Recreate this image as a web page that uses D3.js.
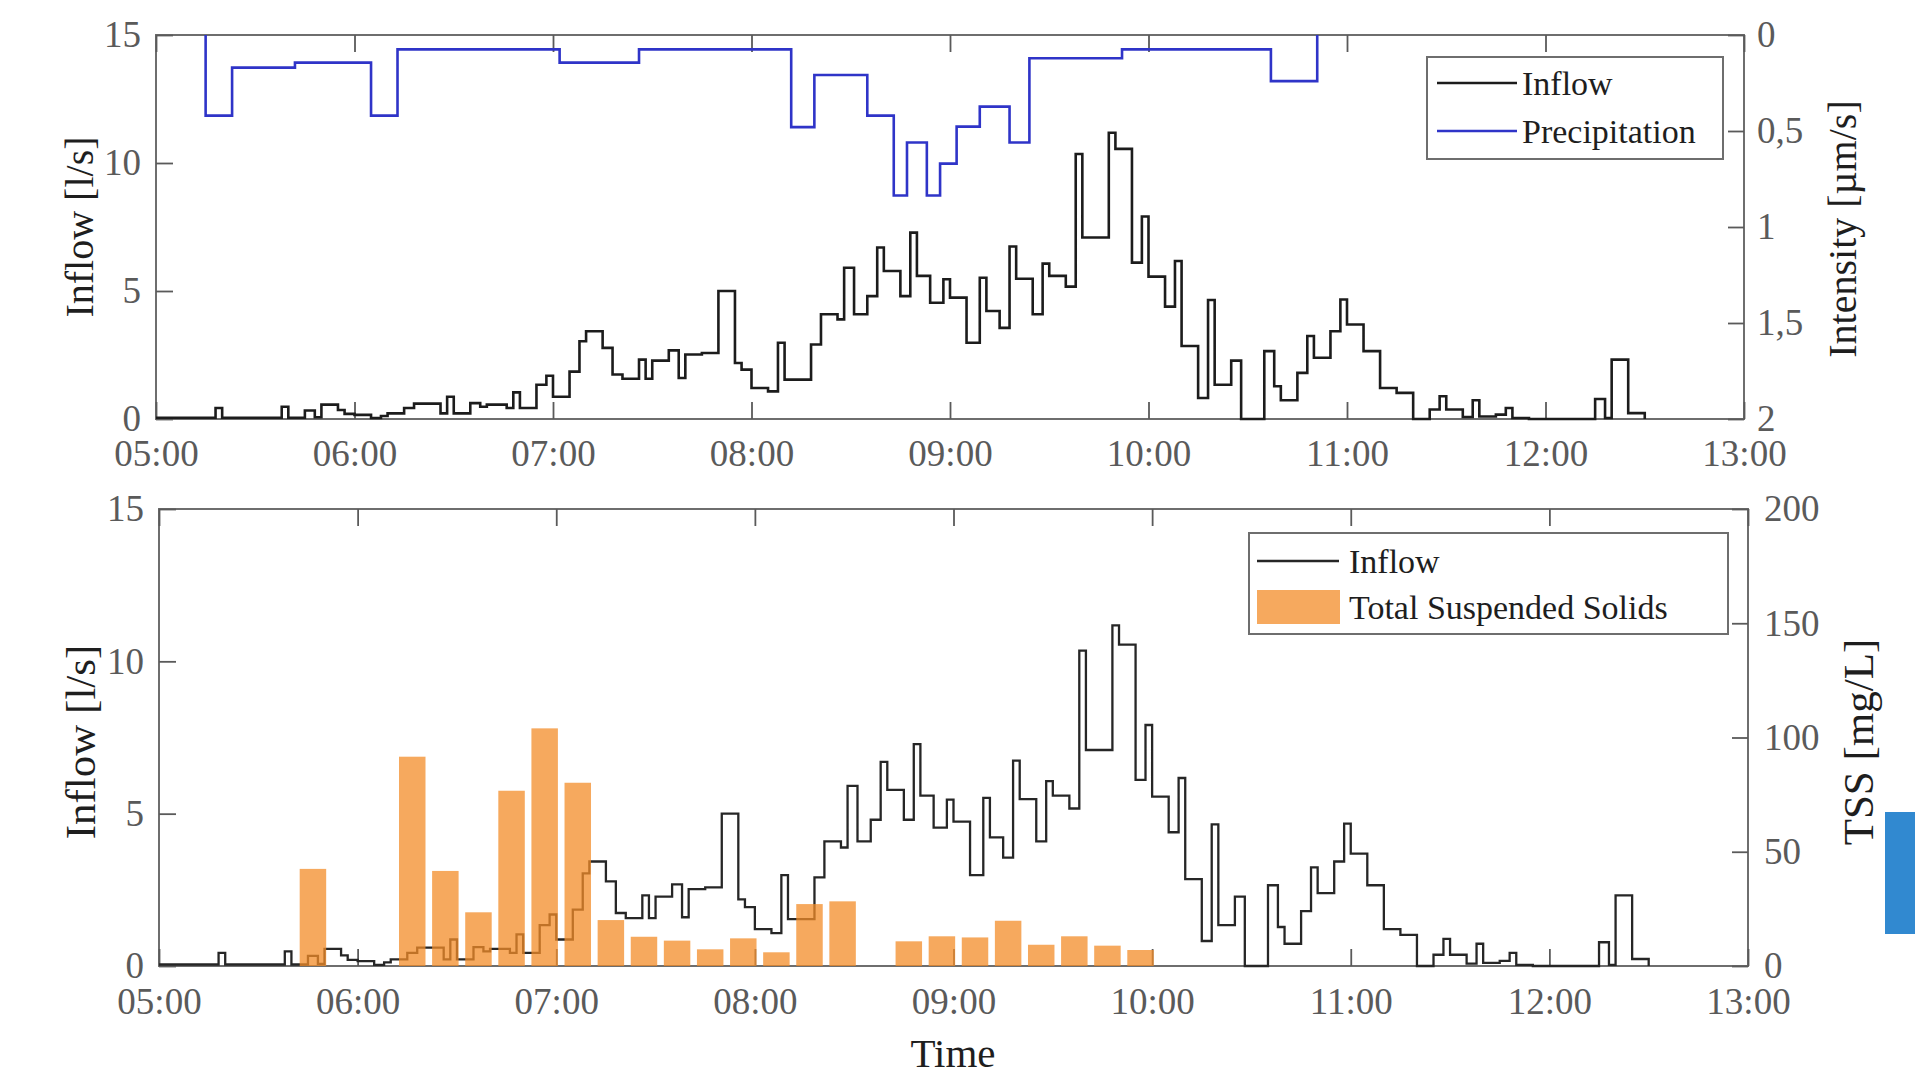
<!DOCTYPE html>
<html lang="en">
<head>
    <meta charset="UTF-8">
    <title>Inflow, precipitation and TSS</title>
    <script src="https://d3js.org/d3.v7.min.js"></script>
    <style>
        body { margin: 0; background: #fff; }
        text { font-family: 'Liberation Serif', 'DejaVu Serif', serif; }
    </style>
</head>
<body>
    <svg id="chart"></svg>

    <script>
        // inflow [l/s], step values starting at each time
        const inflowTime = ["05:00","05:18","05:20","05:38","05:40","05:45","05:48","05:50","05:55","05:57",
            "06:00","06:05","06:08","06:10","06:15","06:18","06:26","06:28","06:30","06:35",
            "06:38","06:40","06:46","06:48","06:50","06:55","06:58","07:00","07:05","07:08",
            "07:10","07:15","07:18","07:21","07:26","07:28","07:30","07:35","07:38","07:40",
            "07:45","07:50","07:55","07:57","08:00","08:05","08:08","08:10","08:18","08:21",
            "08:26","08:28","08:31","08:35","08:38","08:40","08:45","08:48","08:50","08:54",
            "08:58","09:00","09:05","09:09","09:11","09:15","09:18","09:20","09:25","09:28",
            "09:30","09:35","09:38","09:40","09:48","09:50","09:55","09:58","10:00","10:05",
            "10:08","10:10","10:15","10:18","10:20","10:25","10:28","10:35","10:38","10:40",
            "10:45","10:48","10:50","10:55","10:58","11:00","11:05","11:10","11:15","11:20",
            "11:25","11:28","11:30","11:35","11:38","11:40","11:45","11:48","11:50","11:55",
            "12:15","12:18","12:20","12:25","12:30"];
        const inflowValue = [0.05,0.43,0.05,0.48,0.05,0.33,0.07,0.56,0.35,0.2,
            0.16,0.04,0.12,0.22,0.43,0.6,0.22,0.87,0.22,0.62,
            0.48,0.56,0.43,1.04,0.43,1.34,1.69,0.87,1.85,3.04,
            3.43,2.78,1.74,1.57,2.32,1.57,2.28,2.68,1.6,2.52,
            2.58,5.0,2.19,1.93,1.21,1.08,2.98,1.54,2.91,4.09,
            3.89,5.91,4.09,4.8,6.7,5.78,4.8,7.28,5.59,4.54,
            5.46,4.74,2.98,5.52,4.22,3.56,6.74,5.48,4.09,6.07,
            5.59,5.17,10.35,7.09,11.18,10.55,6.11,7.91,5.56,4.39,
            6.17,2.85,0.82,4.65,1.34,2.28,0,2.65,1.28,0.73,
            1.8,3.24,2.39,3.43,4.67,3.69,2.65,1.21,1.02,0,
            0.37,0.89,0.37,0.08,0.73,0.1,0.17,0.43,0.04,0,
            0.78,0.04,2.32,0.23,0];

        // precipitation intensity [um/s]
        const precipTime = ["05:15","05:23","05:42","06:05","06:13","07:02","07:26","08:12","08:19","08:35",
            "08:43","08:47","08:53","08:57","09:02","09:09","09:18","09:24","09:52","10:37","10:51"];
        const precipValue = [0.42,0.17,0.144,0.42,0.075,0.144,0.075,0.48,0.208,0.42,
            0.836,0.56,0.836,0.67,0.477,0.373,0.56,0.121,0.075,0.24,0];

        // total suspended solids [mg/L], sample centre times
        const tssTime = ["05:46:30","06:16:30","06:26:30","06:36:30","06:46:30","06:56:30","07:06:30","07:16:30",
            "07:26:30","07:36:30","07:46:30","07:56:30","08:06:30","08:16:30","08:26:30","08:46:30",
            "08:56:30","09:06:30","09:16:30","09:26:30","09:36:30","09:46:30","09:56:30"];
        const tssValue = [42.5,91.6,41.6,23.5,76.7,104,80.2,20.1,12.8,11.1,7.3,12.1,6.0,27.1,28.3,10.8,
            13.0,12.5,19.8,9.3,13.0,8.9,7.0];

        const hourTicks = ["05:00","06:00","07:00","08:00","09:00","10:00","11:00","12:00","13:00"];
        const inflowTicks = [0, 5, 10, 15];
        const intensityTicks = [0, 0.5, 1, 1.5, 2];
        const tssTicks = [0, 50, 100, 150, 200];

        const parseHM = d3.timeParse('%H:%M');
        const parseHMS = d3.timeParse('%H:%M:%S');
        const commaFmt = d3.formatLocale({ decimal: ',', thousands: '.', grouping: [3], currency: ['', ''] }).format('~g');

        const svg = d3.select('#chart').attr('width', 1915).attr('height', 1077);

        const inflow = inflowTime.map((t, i) => ({ t: parseHM(t), v: inflowValue[i] }));
        // rain line starts with a drop from the top edge
        const precip = [{ t: parseHM(precipTime[0]), v: 0 }]
            .concat(precipTime.map((t, i) => ({ t: parseHM(t), v: precipValue[i] })));
        const tss = tssTime.map((t, i) => ({ t: parseHMS(t), v: tssValue[i] }));

        const xDomain = [parseHM(hourTicks[0]), parseHM(hourTicks[hourTicks.length - 1])];
        const hourDates = hourTicks.map(parseHM);

        const axisColor = '#5a5a5a';
        const tickFont = 37;

        // frame + inward ticks on all four sides
        function drawFrame(x, y, yR, rightTicks, rightFmt, rightPad, bottomPad) {
            const [x0, x1] = x.range();
            const [yb, yt] = y.range();

            svg.append('rect')
                .attr('x', x0).attr('y', yt)
                .attr('width', x1 - x0).attr('height', yb - yt)
                .attr('fill', 'none')
                .attr('stroke', '#6e6e6e')
                .attr('stroke-width', 2);

            const styleAxis = (g) => {
                g.select('.domain').remove();
                g.attr('font-family', "'Liberation Serif', serif")
                    .attr('font-size', tickFont)
                    .attr('color', axisColor);
                g.selectAll('line').attr('stroke-width', 1.8);
            };

            svg.append('g')
                .attr('transform', `translate(0,${yb})`)
                .call(d3.axisBottom(x).tickValues(hourDates).tickFormat(d3.timeFormat('%H:%M'))
                    .tickSize(-17).tickPadding(bottomPad))
                .call(styleAxis);

            svg.append('g')
                .attr('transform', `translate(0,${yt})`)
                .call(d3.axisTop(x).tickValues(hourDates).tickFormat(() => '').tickSize(-17))
                .call(styleAxis);

            svg.append('g')
                .attr('transform', `translate(${x0},0)`)
                .call(d3.axisLeft(y).tickValues(inflowTicks).tickSize(-17).tickPadding(15))
                .call(styleAxis);

            svg.append('g')
                .attr('transform', `translate(${x1},0)`)
                .call(d3.axisRight(yR).tickValues(rightTicks).tickFormat(rightFmt).tickSize(-16).tickPadding(rightPad))
                .call(styleAxis);
        }

        function axisTitle(text, x, y, size, rotate) {
            svg.append('text')
                .attr('transform', `translate(${x},${y}) rotate(${rotate})`)
                .attr('text-anchor', 'middle')
                .attr('dominant-baseline', 'central')
                .attr('font-size', size)
                .attr('fill', '#1e1e1e')
                .text(text);
        }

        // ---------- top panel: inflow + precipitation ----------
        const xTop = d3.scaleTime().domain(xDomain).range([156, 1744]);
        const yTop = d3.scaleLinear().domain([0, 15]).range([419, 35]);
        const yRain = d3.scaleLinear().domain([0, 2]).range([35, 419]);

        drawFrame(xTop, yTop, yRain, intensityTicks, commaFmt, 13, 21);

        svg.append('path')
            .datum(inflow)
            .attr('fill', 'none')
            .attr('stroke', '#1c1c1c')
            .attr('stroke-width', 2.6)
            .attr('d', d3.line().curve(d3.curveStepAfter).x(d => xTop(d.t)).y(d => yTop(d.v)));

        svg.append('path')
            .datum(precip)
            .attr('fill', 'none')
            .attr('stroke', '#2f34c8')
            .attr('stroke-width', 2.6)
            .attr('d', d3.line().curve(d3.curveStepAfter).x(d => xTop(d.t)).y(d => yRain(d.v)));

        axisTitle('Inflow [l/s]', 79, 227, 40, -90);
        axisTitle('Intensity [µm/s]', 1842, 229, 40, -90);

        // legend top
        const legTop = svg.append('g');
        legTop.append('rect')
            .attr('x', 1427).attr('y', 57).attr('width', 296).attr('height', 102)
            .attr('fill', '#fff').attr('stroke', '#6e6e6e').attr('stroke-width', 2);
        [['Inflow', '#1c1c1c', 83], ['Precipitation', '#2f34c8', 131]].forEach(([label, color, ly]) => {
            legTop.append('line')
                .attr('x1', 1437).attr('x2', 1517).attr('y1', ly).attr('y2', ly)
                .attr('stroke', color).attr('stroke-width', 2.6);
            legTop.append('text')
                .attr('x', 1522).attr('y', ly).attr('dy', '0.35em')
                .attr('font-size', 34).attr('fill', '#1e1e1e')
                .text(label);
        });

        // ---------- bottom panel: inflow + TSS ----------
        const xBot = d3.scaleTime().domain(xDomain).range([159, 1748]);
        const yBot = d3.scaleLinear().domain([0, 15]).range([966, 509]);
        const yTss = d3.scaleLinear().domain([0, 200]).range([966, 509]);

        drawFrame(xBot, yBot, yTss, tssTicks, d3.format('d'), 16, 22);

        svg.append('path')
            .datum(inflow)
            .attr('fill', 'none')
            .attr('stroke', '#262626')
            .attr('stroke-width', 2.3)
            .attr('d', d3.line().curve(d3.curveStepAfter).x(d => xBot(d.t)).y(d => yBot(d.v)));

        // bars are 8 min wide, centred on the sample time
        const halfBar = 4 * 60 * 1000;
        svg.append('g')
            .selectAll('rect')
            .data(tss)
            .join('rect')
            .attr('x', d => xBot(new Date(+d.t - halfBar)))
            .attr('width', d => xBot(new Date(+d.t + halfBar)) - xBot(new Date(+d.t - halfBar)))
            .attr('y', d => yTss(d.v))
            .attr('height', d => yTss(0) - yTss(d.v))
            .attr('fill', 'rgb(243,140,40)')
            .attr('fill-opacity', 0.75);

        axisTitle('Inflow [l/s]', 80, 742, 43, -90);
        axisTitle('TSS [mg/L]', 1858, 742, 43, -90);

        svg.append('text')
            .attr('x', 953).attr('y', 1067)
            .attr('text-anchor', 'middle')
            .attr('font-size', 41)
            .attr('fill', '#1e1e1e')
            .text('Time');

        // legend bottom
        const legBot = svg.append('g');
        legBot.append('rect')
            .attr('x', 1249).attr('y', 533).attr('width', 479).attr('height', 101)
            .attr('fill', '#fff').attr('stroke', '#6e6e6e').attr('stroke-width', 2);
        legBot.append('line')
            .attr('x1', 1257).attr('x2', 1339).attr('y1', 561).attr('y2', 561)
            .attr('stroke', '#262626').attr('stroke-width', 2.3);
        legBot.append('rect')
            .attr('x', 1257).attr('y', 590).attr('width', 83).attr('height', 34)
            .attr('fill', 'rgb(243,140,40)').attr('fill-opacity', 0.75);
        legBot.append('text')
            .attr('x', 1349).attr('y', 561).attr('dy', '0.35em')
            .attr('font-size', 34).attr('fill', '#1e1e1e').text('Inflow');
        legBot.append('text')
            .attr('x', 1349).attr('y', 607).attr('dy', '0.35em')
            .attr('font-size', 34).attr('fill', '#1e1e1e').text('Total Suspended Solids');

        // blue block at the right edge of the screenshot
        svg.append('rect')
            .attr('x', 1885).attr('y', 812).attr('width', 30).attr('height', 122)
            .attr('fill', '#3189d0');
    </script>
</body>
</html>
